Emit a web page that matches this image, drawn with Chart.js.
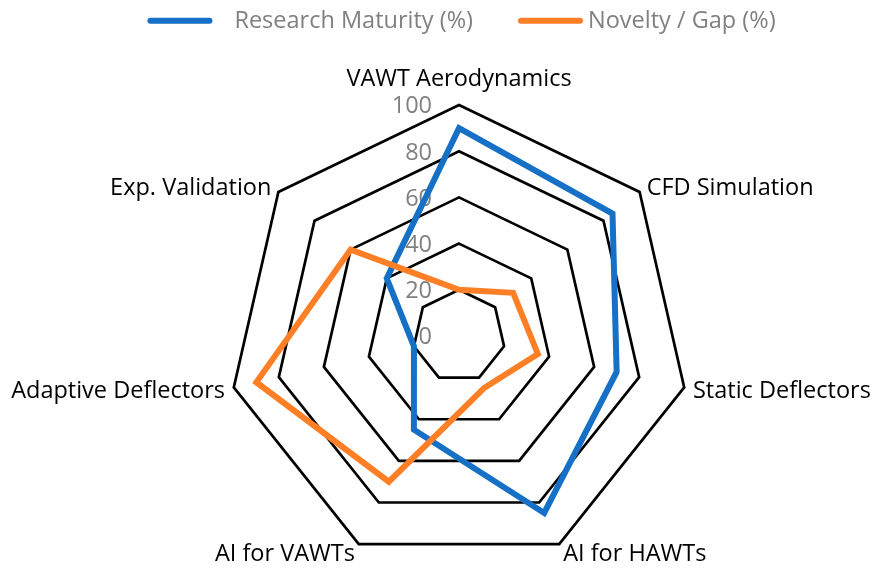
<!DOCTYPE html>
<html>
<head>
<meta charset="utf-8">
<script src="https://cdn.jsdelivr.net/npm/chart.js@4"></script>
<style>
  html, body { margin: 0; padding: 0; background: #fff; overflow: hidden; }
  #wrap { width: 880px; height: 569px; position: relative; }
</style>
</head>
<body>
<div id="wrap"><canvas id="radarChart"></canvas></div>
<script>
// ===== data =====
const categories = ["VAWT Aerodynamics", "CFD Simulation", "Static Deflectors", "AI for HAWTs", "AI for VAWTs", "Adaptive Deflectors", "Exp. Validation"];
const maturity = [90, 85, 70, 85, 45, 20, 40];
const novelty = [20, 30, 35, 25, 70, 90, 60];
const tickValues = [0, 20, 40, 60, 80, 100];
const seriesNames = ["Research Maturity (%)", "Novelty / Gap (%)"];

const BLUE = "#1570C6";
const ORANGE = "#FF7F27";
const GREY = "#808080";
const FONT = "'Open Sans', sans-serif";
const FSIZE = 23.5;
const HALFCAP = 8.3;

Chart.defaults.font.family = FONT;

// tick numbers left of the vertical axis, drawn under the lines
const tickLabels = {
    id: "tickLabels",
    beforeDatasetsDraw(chart) {
        const s = chart.scales.r;
        const ctx = chart.ctx;
        ctx.save();
        ctx.font = FSIZE + "px " + FONT;
        ctx.fillStyle = GREY;
        ctx.textAlign = "right";
        ctx.textBaseline = "alphabetic";
        tickValues.forEach(v => {
            const p = s.getPointPositionForValue(0, v);
            ctx.fillText(String(v), s.xCenter - 27, p.y + HALFCAP);
        });
        ctx.restore();
    }
};

// category labels round the outer ring
const pointLabels = {
    id: "pointLabelsX",
    afterDatasetsDraw(chart) {
        const s = chart.scales.r;
        const ctx = chart.ctx;
        const outer = s.getDistanceFromCenterForValue(100);
        ctx.save();
        ctx.font = FSIZE + "px " + FONT;
        ctx.fillStyle = "#000";
        ctx.textBaseline = "alphabetic";
        categories.forEach((c, i) => {
            const v = s.getPointPosition(i, outer);
            const dx = v.x - s.xCenter;
            if (Math.abs(dx) < 1) {
                ctx.textAlign = "center";
                ctx.fillText(c, v.x, v.y - 27 + HALFCAP);
                return;
            }
            const p = s.getPointPosition(i, outer + 9);
            ctx.textAlign = dx > 0 ? "left" : "right";
            ctx.fillText(c, p.x, p.y + HALFCAP);
        });
        ctx.restore();
    }
};

// legend: line sample + text, centred over the plot
const lineLegend = {
    id: "lineLegend",
    afterDraw(chart) {
        const ctx = chart.ctx;
        const s = chart.scales.r;
        ctx.save();
        ctx.font = FSIZE + "px " + FONT;
        const w1 = ctx.measureText(seriesNames[0]).width;
        const w2 = ctx.measureText(seriesNames[1]).width;
        const lineLen = 59, gap1 = 25, gap2 = 8, between = 48;
        const total = 3 + lineLen + gap1 + w1 + between + lineLen + gap2 + w2;
        let x = s.xCenter + 2.5 - total / 2;
        const y = 20.7;
        ctx.lineWidth = 6;
        ctx.lineCap = "round";

        x += 3;
        ctx.strokeStyle = BLUE;
        ctx.beginPath(); ctx.moveTo(x, y); ctx.lineTo(x + lineLen, y); ctx.stroke();
        x += lineLen + gap1;
        ctx.fillStyle = GREY;
        ctx.textAlign = "left";
        ctx.textBaseline = "alphabetic";
        ctx.fillText(seriesNames[0], x, 19.5 + HALFCAP);
        x += w1 + between;

        ctx.strokeStyle = ORANGE;
        ctx.beginPath(); ctx.moveTo(x, y); ctx.lineTo(x + lineLen, y); ctx.stroke();
        x += lineLen + gap2;
        ctx.fillText(seriesNames[1], x, 19.5 + HALFCAP);
        ctx.restore();
    }
};

new Chart(document.getElementById("radarChart"), {
    type: "radar",
    data: {
        labels: categories,
        datasets: [
            {
                label: seriesNames[0],
                data: maturity,
                borderColor: BLUE,
                borderWidth: 6,
                borderJoinStyle: "miter",
                fill: false,
                pointRadius: 0,
                pointHoverRadius: 0,
                order: 1
            },
            {
                label: seriesNames[1],
                data: novelty,
                borderColor: ORANGE,
                borderWidth: 6,
                borderJoinStyle: "miter",
                fill: false,
                pointRadius: 0,
                pointHoverRadius: 0,
                order: 0
            }
        ]
    },
    options: {
        responsive: true,
        maintainAspectRatio: false,
        animation: false,
        layout: { padding: { top: 104.5, bottom: 1.5, left: 38, right: 0 } },
        plugins: {
            legend: { display: false },
            tooltip: { enabled: false }
        },
        elements: { line: { tension: 0 } },
        scales: {
            r: {
                min: 0,
                max: 100,
                ticks: { stepSize: 20, display: false },
                grid: { color: "#000", lineWidth: 2.7, circular: false },
                angleLines: { display: false },
                pointLabels: { display: false }
            }
        }
    },
    plugins: [tickLabels, pointLabels, lineLegend]
});
</script>
</body>
</html>
